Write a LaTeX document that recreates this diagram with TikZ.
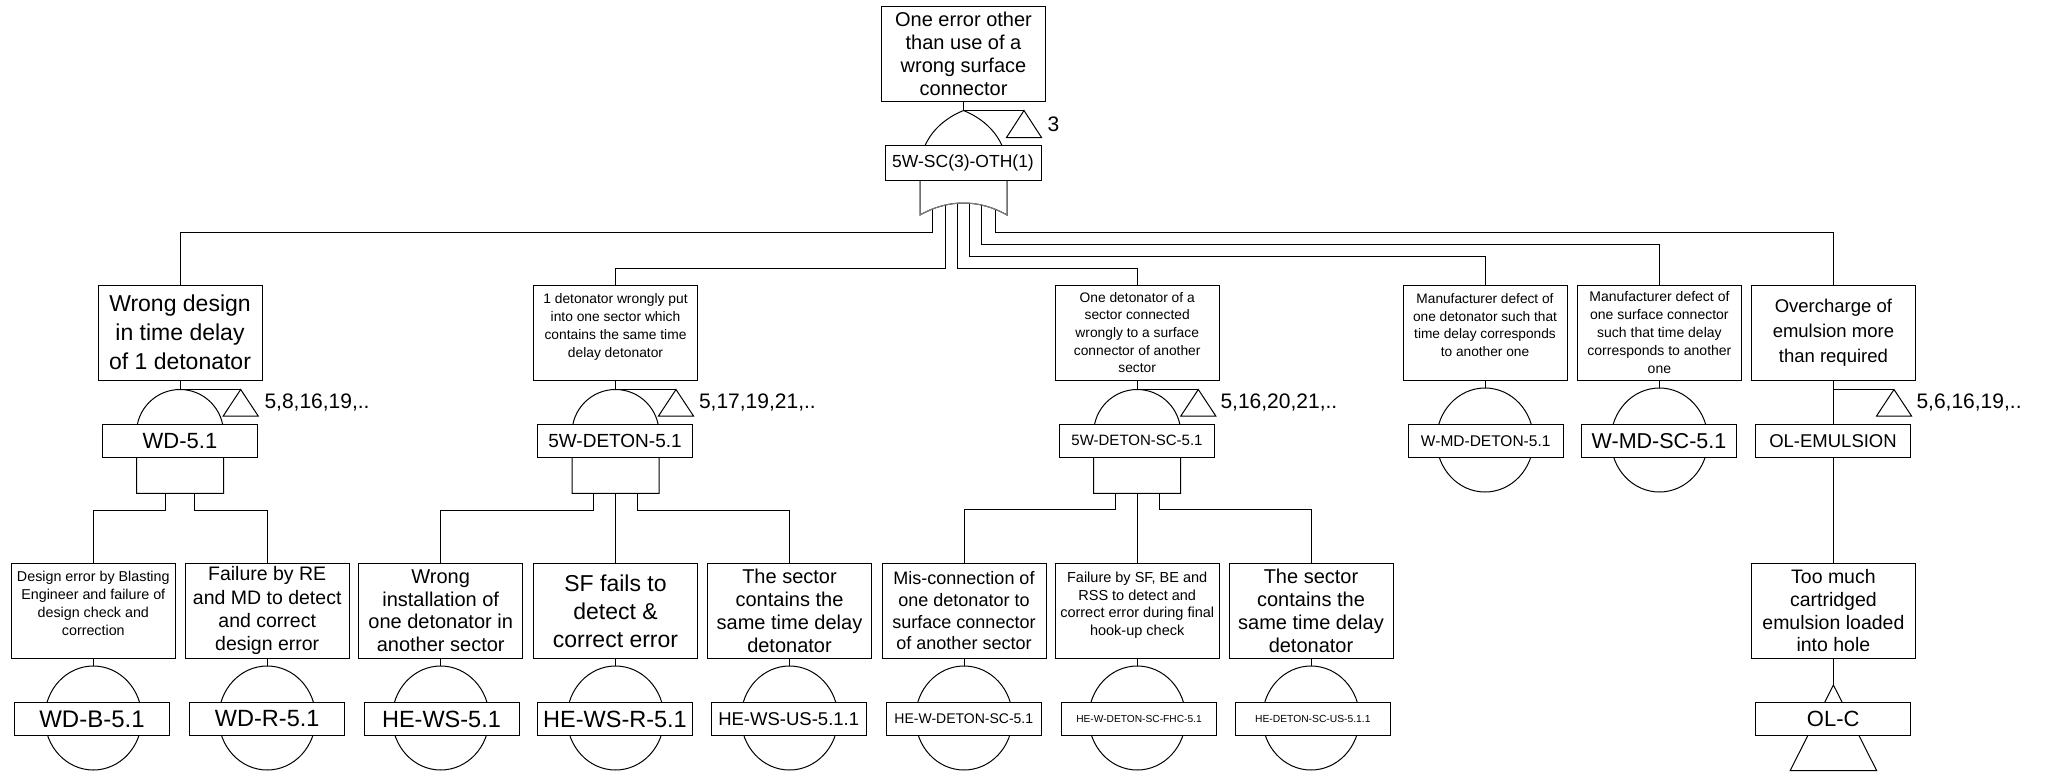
\documentclass[tikz,border=0pt]{standalone}
\usepackage{fontspec}
\setmainfont{Liberation Sans}
\usetikzlibrary{shapes.geometric}
\begin{document}
\begin{tikzpicture}[x=1pt, y=-1pt, line width=1pt,
  event node/.style={draw,fill=white,minimum width=164pt,minimum height=95pt,align=center,inner sep=2pt},
  id node/.style={draw,fill=white,minimum width=155pt,minimum height=33pt,inner sep=1pt},
  basic node/.style={ellipse,draw,fill=white,minimum width=97pt,minimum height=104pt,inner sep=0pt},
  gate/.style={draw,fill=white},
  xfer/.style={draw,fill=white},
  count node/.style={anchor=west,inner sep=0pt,font=\fontsize{21pt}{24pt}\selectfont}]
\useasboundingbox (0,0) rectangle (2057,774);
% events
\node [event node,font=\fontsize{20pt}{23pt}\selectfont](top) at (963.5,54) {One error other\\than use of a\\wrong surface\\connector};
\node [event node,font=\fontsize{23pt}{29pt}\selectfont](wd) at (180,332.5) {Wrong design\\in time delay\\of 1 detonator};
\node [event node,font=\fontsize{13.8pt}{18pt}\selectfont](wdet) at (615.5,332.5) {1 detonator wrongly put\\into one sector which\\contains the same time\\delay detonator\\[-3pt]\mbox{}};
\node [event node,font=\fontsize{13.8pt}{17.7pt}\selectfont](wsc) at (1137.2,332.5) {One detonator of a\\sector connected\\wrongly to a surface\\connector of another\\sector};
\node [event node,font=\fontsize{13.7pt}{17.5pt}\selectfont](mdet) at (1485,332.5) {Manufacturer defect of\\one detonator such that\\time delay corresponds\\to another one\\[-3pt]\mbox{}};
\node [event node,font=\fontsize{14pt}{18pt}\selectfont](msc) at (1659.4,332.5) {Manufacturer defect of\\one surface connector\\such that time delay\\corresponds to another\\one};
\node [event node,font=\fontsize{18.5pt}{25pt}\selectfont](ol) at (1833.4,332.5) {Overcharge of\\emulsion more\\than required};
\node [event node,font=\fontsize{14.3pt}{18pt}\selectfont](wdb) at (93.3,610.8) {Design error by Blasting\\Engineer and failure of\\design check and\\correction\\[-3pt]\mbox{}};
\node [event node,font=\fontsize{19.5pt}{23.3pt}\selectfont](wdr) at (267.2,610.8) {Failure by RE\\and MD to detect\\and correct\\design error};
\node [event node,font=\fontsize{20pt}{22.8pt}\selectfont](hews) at (440.7,610.8) {Wrong\\installation of\\one detonator in\\another sector};
\node [event node,font=\fontsize{23pt}{28pt}\selectfont](hewsr) at (615.5,610.8) {SF fails to\\detect \&\\correct error};
\node [event node,font=\fontsize{20pt}{22.8pt}\selectfont](hewsus) at (789.5,610.8) {The sector\\contains the\\same time delay\\detonator};
\node [event node,font=\fontsize{18pt}{21.7pt}\selectfont](hewdet) at (964,610.8) {Mis-connection of\\one detonator to\\surface connector\\of another sector};
\node [event node,font=\fontsize{14.5pt}{17.5pt}\selectfont](hefhc) at (1137.2,610.8) {Failure by SF, BE and\\RSS to detect and\\correct error during final\\hook-up check\\[-3pt]\mbox{}};
\node [event node,font=\fontsize{20pt}{23pt}\selectfont](hedetus) at (1311,610.8) {The sector\\contains the\\same time delay\\detonator};
\node [event node,font=\fontsize{19.5pt}{22.7pt}\selectfont](olc) at (1833.4,610.8) {Too much\\cartridged\\emulsion loaded\\into hole};
% gate tops, legs and transfer triangles
\coordinate (gT) at (963.5,110.5);
\coordinate (tT) at (1024,110.5);
\coordinate (gA) at (180,389.5);
\coordinate (tA) at (240.7,389.5);
\coordinate (gB) at (615.5,389.5);
\coordinate (tB) at (676,389.5);
\coordinate (gC) at (1137.2,389.5);
\coordinate (tC) at (1198.3,389.5);
\coordinate (gF) at (1833.4,389.5);
\coordinate (tF) at (1894,389.5);
\coordinate (tG) at (1833.4,685);
\coordinate (lT1) at (932.3,208.8);
\coordinate (lT2) at (945,204.8);
\coordinate (lT3) at (957.7,202.9);
\coordinate (lT4) at (969.3,202.9);
\coordinate (lT5) at (981.7,204.7);
\coordinate (lT6) at (995,208.9);
\coordinate (lA1) at (165.7,493.3);
\coordinate (lA2) at (194.3,493.3);
\coordinate (lB1) at (593.5,493.3);
\coordinate (lB2) at (615.5,493.3);
\coordinate (lB3) at (637.5,493.3);
\coordinate (lC1) at (1115.5,493.3);
\coordinate (lC2) at (1137.2,493.3);
\coordinate (lC3) at (1159,493.3);
% connectors
\draw (top.south) -- (gT) -- (tT);
\draw (wd.south) -- (gA) -- (tA);
\draw (wdet.south) -- (gB) -- (tB);
\draw (wsc.south) -- (gC) -- (tC);
\draw (ol.south) -- (olc.north);
\draw (gF) -- (tF);
\draw (olc.south) -- (tG);
\draw (lT1) -- ++(0,23.5) -| (wd.north);
\draw (lT2) -- ++(0,63.5) -| (wdet.north);
\draw (lT3) -- ++(0,65.4) -| (wsc.north);
\draw (lT4) -- ++(0,53.4) -| (mdet.north);
\draw (lT5) -- ++(0,39.6) -| (msc.north);
\draw (lT6) -- ++(0,23.4) -| (ol.north);
\draw (lA1) -- ++(0,17.4) -| (wdb.north);
\draw (lA2) -- ++(0,17.4) -| (wdr.north);
\draw (lB1) -- ++(0,17) -| (hews.north);
\draw (lB2) -- (hewsr.north);
\draw (lB3) -- ++(0,17) -| (hewsus.north);
\draw (lC1) -- ++(0,16) -| (hewdet.north);
\draw (lC2) -- (hefhc.north);
\draw (lC3) -- ++(0,16) -| (hedetus.north);
% gates
\draw[gate] (920,215) -- (920,170) .. controls (920,140) and (940,120) .. (gT) .. controls (987,120) and (1007,140) .. (1007,170) -- (1007,215) .. controls (979,199) and (948,199) .. cycle;
\draw[black!50] (920,180) -- (920,215) .. controls (948,199) and (979,199) .. (1007,215) -- (1007,180);
\draw[gate] (136.5,493.3) -- (136.5,433) .. controls (136.5,409) and (156,389.5) .. (gA) .. controls (204,389.5) and (223.5,409) .. (223.5,433) -- (223.5,493.3) -- cycle;
\draw[gate] (572,493.3) -- (572,433) .. controls (572,409) and (591.5,389.5) .. (gB) .. controls (639.5,389.5) and (659,409) .. (659,433) -- (659,493.3) -- cycle;
\draw[gate] (1093.7,493.3) -- (1093.7,433) .. controls (1093.7,409) and (1113.2,389.5) .. (gC) .. controls (1161.2,389.5) and (1180.7,409) .. (1180.7,433) -- (1180.7,493.3) -- cycle;
% basic events
\node [basic node](bmdet) at (1485,440) {};
\node [basic node](bmsc) at (1659.4,440) {};
\node [basic node](bwdb) at (93.3,718) {};
\node [basic node](bwdr) at (267.2,718) {};
\node [basic node](bhews) at (440.7,718) {};
\node [basic node](bhewsr) at (615.5,718) {};
\node [basic node](bhewsus) at (789.5,718) {};
\node [basic node](bhewdet) at (964,718) {};
\node [basic node](bhefhc) at (1137.2,718) {};
\node [basic node](bhedetus) at (1311,718) {};
\path
	(mdet) edge (bmdet)
	(msc) edge (bmsc)
	(wdb) edge (bwdb)
	(wdr) edge (bwdr)
	(hews) edge (bhews)
	(hewsr) edge (bhewsr)
	(hewsus) edge (bhewsus)
	(hewdet) edge (bhewdet)
	(hefhc) edge (bhefhc)
	(hedetus) edge (bhedetus)
	;
% transfers
\draw[xfer] (tT) -- ++(-17.5,27) -- ++(35,0) -- cycle;
\draw[xfer] (tA) -- ++(-17.5,26.5) -- ++(35,0) -- cycle;
\draw[xfer] (tB) -- ++(-17.5,26.5) -- ++(35,0) -- cycle;
\draw[xfer] (tC) -- ++(-17.5,26.5) -- ++(35,0) -- cycle;
\draw[xfer] (tF) -- ++(-17.5,26.5) -- ++(35,0) -- cycle;
\draw[xfer] (tG) -- ++(-43.3,85.7) -- ++(86.6,0) -- cycle;
% ids
\node [id node,minimum width=156pt,minimum height=35pt,font=\fontsize{17.5pt}{20pt}\selectfont](itop) at (963,162.5) {5W-SC(3)-OTH(1)};
\node [id node,font=\fontsize{22pt}{24pt}\selectfont](iwd) at (180,440.8) {WD-5.1};
\node [id node,font=\fontsize{19pt}{22pt}\selectfont](iwdet) at (615,440.8) {5W-DETON-5.1};
\node [id node,font=\fontsize{15pt}{18pt}\selectfont](iwsc) at (1137,440.8) {5W-DETON-SC-5.1};
\node [id node,font=\fontsize{15.5pt}{18pt}\selectfont](imdet) at (1485.7,440.8) {W-MD-DETON-5.1};
\node [id node,font=\fontsize{21.5pt}{24pt}\selectfont](imsc) at (1659,440.8) {W-MD-SC-5.1};
\node [id node,font=\fontsize{18.5pt}{22pt}\selectfont](iol) at (1833,440.8) {OL-EMULSION};
\node [id node,font=\fontsize{24pt}{26pt}\selectfont](iwdb) at (92,719) {WD-B-5.1};
\node [id node,font=\fontsize{23.5pt}{26pt}\selectfont](iwdr) at (267.2,719) {WD-R-5.1};
\node [id node,font=\fontsize{23.5pt}{26pt}\selectfont](ihews) at (441.5,719) {HE-WS-5.1};
\node [id node,font=\fontsize{23.5pt}{26pt}\selectfont](ihewsr) at (615,719) {HE-WS-R-5.1};
\node [id node,font=\fontsize{18.5pt}{22pt}\selectfont](ihewsus) at (788.7,719) {HE-WS-US-5.1.1};
\node [id node,font=\fontsize{14pt}{17pt}\selectfont](ihewdet) at (963.8,719) {HE-W-DETON-SC-5.1};
\node [id node,font=\fontsize{10.2pt}{12pt}\selectfont](ihefhc) at (1139,719) {HE-W-DETON-SC-FHC-5.1};
\node [id node,font=\fontsize{10.3pt}{12pt}\selectfont](ihedetus) at (1312.8,719) {HE-DETON-SC-US-5.1.1};
\node [id node,font=\fontsize{22pt}{24pt}\selectfont](iolc) at (1833.2,719.2) {OL-C};
% counts
\node [count node](nT) at (1047,124) {3};
\node [count node](nA) at (264,403) {5,8,16,19,..};
\node [count node](nB) at (698.5,403) {5,17,19,21,..};
\node [count node](nC) at (1220,403) {5,16,20,21,..};
\node [count node](nF) at (1916,403) {5,6,16,19,..};
\end{tikzpicture}
\end{document}
